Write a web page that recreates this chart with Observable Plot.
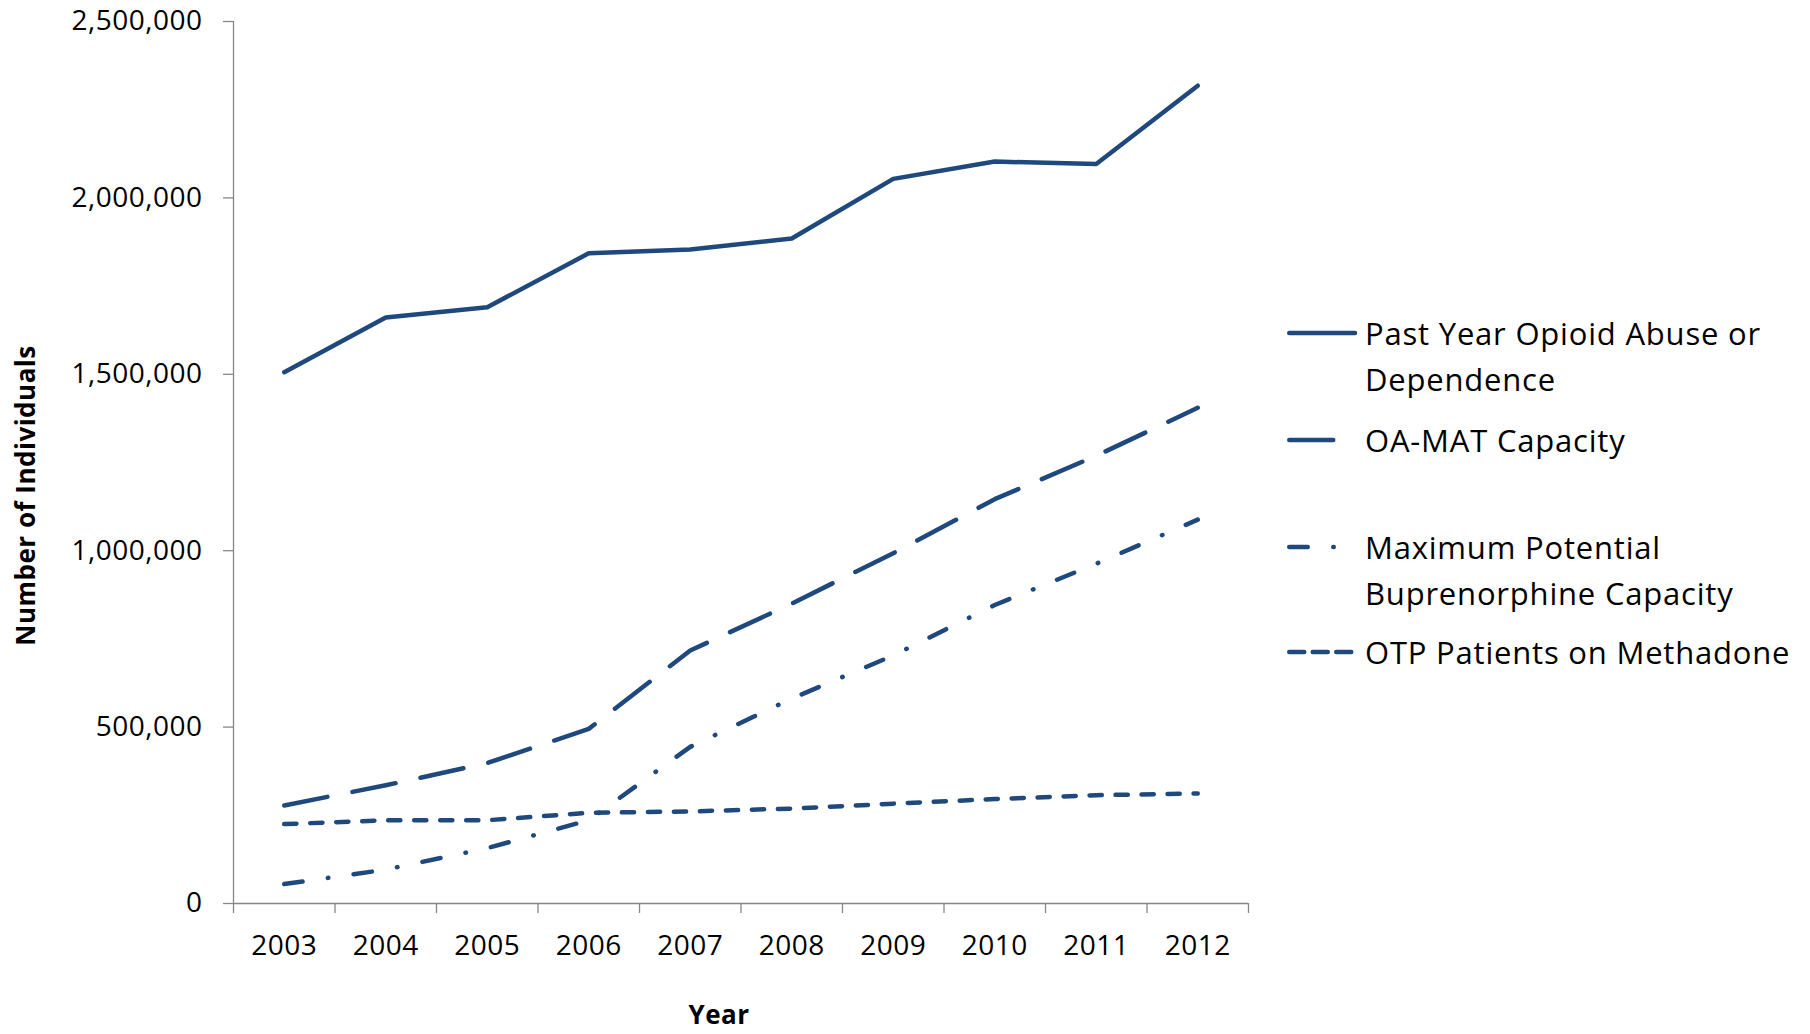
<!DOCTYPE html>
<html>
<head>
<meta charset="utf-8">
<script src="https://cdn.jsdelivr.net/npm/d3@7"></script>
<script src="https://cdn.jsdelivr.net/npm/@observablehq/plot@0.6"></script>
<style>
  html, body { margin: 0; padding: 0; background: #fff; }
  #wrap { position: relative; width: 1810px; height: 1034px; overflow: hidden; font-family: "Open Sans", sans-serif; }
  #legend { position: absolute; left: 0; top: 0; }
  .item { position: absolute; left: 1284px; display: flex; align-items: flex-start; }
  .item svg { flex: 0 0 auto; }
  .label { margin-left: 6px; font-size: 31px; letter-spacing: 0.8px; line-height: 46px; color: #000; white-space: nowrap; }
  svg text { letter-spacing: 0.5px; }
</style>
</head>
<body>
<div id="wrap"><div id="chart"></div><div id="legend"></div></div>
<script>
// ---- data ----
const years = [2003, 2004, 2005, 2006, 2007, 2008, 2009, 2010, 2011, 2012];
const pastYear  = [1506000, 1661000, 1690000, 1843000, 1854000, 1885000, 2054000, 2103000, 2096000, 2318000];
const oaMat     = [278000, 335000, 398000, 495000, 717000, 850000, 993000, 1146000, 1269000, 1405000];
const bupe      = [55000, 96000, 157000, 236000, 444000, 581000, 703000, 846000, 963000, 1088000];
const methadone = [225000, 236000, 236000, 257000, 261000, 269000, 283000, 296000, 307000, 312000];
const seriesNames = [
  "Past Year Opioid Abuse or Dependence",
  "OA-MAT Capacity",
  "Maximum Potential Buprenorphine Capacity",
  "OTP Patients on Methadone"
];
const legendLines = [
  ["Past Year Opioid Abuse or", "Dependence"],
  ["OA-MAT Capacity"],
  ["Maximum Potential", "Buprenorphine Capacity"],
  ["OTP Patients on Methadone"]
];
const yTicks = [0, 500000, 1000000, 1500000, 2000000, 2500000];
const yearBoundaries = [2002.5, 2003.5, 2004.5, 2005.5, 2006.5, 2007.5, 2008.5, 2009.5, 2010.5, 2011.5, 2012.5];

// ---- styles ----
const lineColor = "#1f497d";
const axisGrey = "#878787";
const dashes = ["none", "44,25.5", "18.5,25.5,0.5,25.5", "12.2,13.8"];
const legendDashes = ["none", "44,25.5", "18.5,25.5,0.5,25.5", "15,8.5"];
const legendTops = [310, 417, 524, 629];

const allSeries = [pastYear, oaMat, bupe, methadone];
const rows = allSeries.flatMap((vals, i) =>
  vals.map((v, j) => ({ year: years[j], value: v, series: seriesNames[i] })));

const chart = Plot.plot({
  width: 1810,
  height: 1034,
  marginLeft: 233,
  marginRight: 562,
  marginTop: 21,
  marginBottom: 131,
  style: { fontFamily: "'Open Sans', sans-serif", fontSize: "28px", color: "#000", background: "#fff", overflow: "visible" },
  x: { domain: [2002.5, 2012.5] },
  y: { domain: [0, 2500000] },
  marks: [
    Plot.ruleX([2002.5], { stroke: axisGrey, strokeWidth: 1.3 }),
    Plot.ruleY([0], { stroke: axisGrey, strokeWidth: 1.3 }),
    Plot.axisY({ ticks: yTicks, tickSize: 10, tickPadding: 21, tickFormat: d3.format(","),
                 stroke: axisGrey, strokeWidth: 1.3, fill: "#000", label: null, fontSize: 28 }),
    Plot.axisX({ ticks: yearBoundaries, tickSize: 10, tickFormat: () => "",
                 stroke: axisGrey, strokeWidth: 1.3, label: null }),
    Plot.axisX({ ticks: years, tickSize: 0, tickPadding: 32, tickFormat: d => String(d),
                 fill: "#000", label: null, fontSize: 28 }),
    ...seriesNames.map((s, i) => Plot.line(rows.filter(d => d.series === s), {
      x: "year", y: "value", stroke: lineColor, strokeWidth: 4.5,
      strokeDasharray: dashes[i], strokeLinecap: "round", strokeLinejoin: "round"
    })),
    Plot.text(["Year"], { frameAnchor: "bottom", textAnchor: "middle", lineAnchor: "middle",
                 dx: -22, dy: 112, fontWeight: "bold", fontSize: 26, fill: "#000" }),
    Plot.text(["Number of Individuals"], { frameAnchor: "left", textAnchor: "middle", lineAnchor: "middle",
                 dx: -207, dy: 33, rotate: -90, fontWeight: "bold", fontSize: 26, fill: "#000" })
  ]
});
document.getElementById("chart").appendChild(chart);

// ---- legend ----
const legend = d3.select("#legend");
seriesNames.forEach((s, i) => {
  const item = legend.append("div").attr("class", "item").style("top", legendTops[i] + "px");
  const svg = item.append("svg").attr("width", 75).attr("height", 46);
  svg.append("line")
    .attr("x1", 5.25).attr("x2", 71).attr("y1", 23).attr("y2", 23)
    .attr("stroke", lineColor).attr("stroke-width", 4.5)
    .attr("stroke-linecap", "round")
    .attr("stroke-dasharray", legendDashes[i]);
  const lab = item.append("div").attr("class", "label");
  legendLines[i].forEach(t => lab.append("div").text(t));
});
</script>
</body>
</html>
